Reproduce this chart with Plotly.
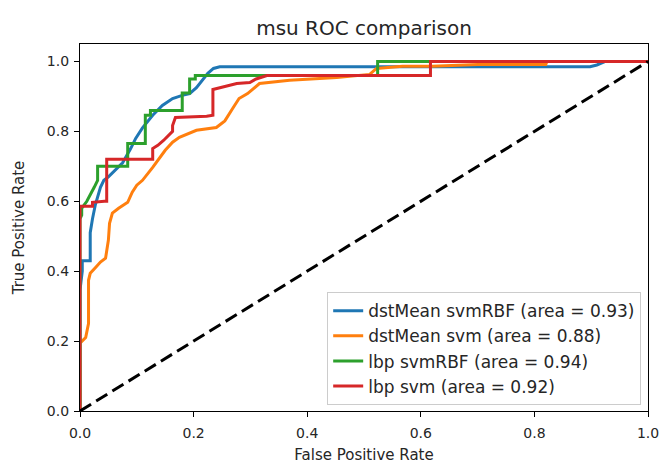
import plotly.graph_objects as go

# ---- data ----
labels = ["dstMean svmRBF (area = 0.93)", "dstMean svm (area = 0.88)",
          "lbp svmRBF (area = 0.94)", "lbp svm (area = 0.92)"]
colors = ["#1f77b4", "#ff7f0e", "#2ca02c", "#d62728"]

fpr_dst_rbf = [0, 0, 0.004, 0.004, 0.018, 0.018, 0.022, 0.027, 0.036, 0.042, 0.05, 0.062, 0.075,
               0.089, 0.098, 0.11, 0.128, 0.145, 0.163, 0.18, 0.193, 0.205, 0.216, 0.225, 0.235,
               0.246, 0.898, 0.91, 0.925, 1.0]
tpr_dst_rbf = [0, 0.346, 0.40, 0.43, 0.43, 0.51, 0.55, 0.59, 0.64, 0.66, 0.67, 0.69, 0.71,
               0.75, 0.78, 0.81, 0.846, 0.874, 0.894, 0.903, 0.908, 0.925, 0.946, 0.966, 0.98,
               0.985, 0.985, 0.99, 1.0, 1.0]

fpr_dst_svm = [0, 0, 0.01, 0.015, 0.015, 0.018, 0.027, 0.036, 0.045, 0.05, 0.052, 0.057, 0.068,
               0.084, 0.092, 0.1, 0.11, 0.128, 0.15, 0.163, 0.175, 0.186, 0.205, 0.24, 0.255,
               0.269, 0.28, 0.295, 0.307, 0.316, 0.369, 0.452, 0.51, 0.522, 0.568, 0.62, 0.7,
               0.82, 0.822, 1.0]
tpr_dst_svm = [0, 0.194, 0.21, 0.25, 0.374, 0.394, 0.41, 0.426, 0.437, 0.489, 0.537, 0.566, 0.58,
               0.597, 0.626, 0.646, 0.66, 0.697, 0.746, 0.769, 0.783, 0.79, 0.803, 0.811, 0.83,
               0.866, 0.894, 0.908, 0.926, 0.937, 0.946, 0.954, 0.963, 0.98, 0.986, 0.986, 0.991,
               0.991, 1.0, 1.0]

fpr_lbp_rbf = [0, 0, 0.003, 0.003, 0.012, 0.018, 0.025, 0.031, 0.031, 0.084, 0.084, 0.115, 0.115,
               0.124, 0.124, 0.18, 0.18, 0.193, 0.193, 0.203, 0.203, 0.524, 0.524, 1.0]
tpr_lbp_rbf = [0, 0.55, 0.56, 0.58, 0.60, 0.617, 0.64, 0.66, 0.70, 0.70, 0.765, 0.765, 0.846,
               0.846, 0.86, 0.86, 0.91, 0.91, 0.95, 0.95, 0.96, 0.96, 1.0, 1.0]

fpr_lbp_svm = [0, 0, 0.022, 0.022, 0.043, 0.047, 0.047, 0.128, 0.128, 0.137, 0.147, 0.156, 0.163,
               0.163, 0.168, 0.223, 0.234, 0.234, 0.258, 0.276, 0.299, 0.31, 0.329, 0.617, 0.617, 1.0]
tpr_lbp_svm = [0, 0.586, 0.586, 0.597, 0.60, 0.60, 0.72, 0.72, 0.751, 0.76, 0.774, 0.789, 0.80,
               0.817, 0.84, 0.843, 0.846, 0.92, 0.93, 0.937, 0.94, 0.95, 0.96, 0.96, 1.0, 1.0]

chance_x = [0, 1]
chance_y = [0, 1]

x_ticks = [0.0, 0.2, 0.4, 0.6, 0.8, 1.0]
y_ticks = [0.0, 0.2, 0.4, 0.6, 0.8, 1.0]

FONT = "DejaVu Sans"
fig = go.Figure()
series = [(fpr_dst_rbf, tpr_dst_rbf), (fpr_dst_svm, tpr_dst_svm),
          (fpr_lbp_rbf, tpr_lbp_rbf), (fpr_lbp_svm, tpr_lbp_svm)]
for (fx, ty), lab, col in zip(series, labels, colors):
    fig.add_trace(go.Scatter(x=fx, y=ty, mode="lines", name=lab,
                             line=dict(color=col, width=3)))
fig.add_trace(go.Scatter(x=chance_x, y=chance_y, mode="lines", showlegend=False,
                         line=dict(color="black", width=3, dash="13px,6px")))

axis_common = dict(showgrid=False, zeroline=False, showline=True, linecolor="black",
                   linewidth=1.3, mirror=True, ticks="outside", ticklen=5, tickwidth=1.3,
                   tickcolor="black", tickfont=dict(family=FONT, size=14, color="#262626"))
fig.update_xaxes(range=[0, 1], tickvals=x_ticks, ticktext=[f"{v:.1f}" for v in x_ticks],
                 ticklabelstandoff=4,
                 title=dict(text="False Positive Rate", font=dict(family=FONT, size=15, color="#262626"),
                            standoff=12), **axis_common)
fig.update_yaxes(range=[0, 1.05], tickvals=y_ticks, ticktext=[f"{v:.1f}" for v in y_ticks],
                 ticklabelstandoff=2,
                 title=dict(text="True Positive Rate", font=dict(family=FONT, size=15, color="#262626"),
                            standoff=18), **axis_common)

fig.update_layout(
    width=661, height=464,
    margin=dict(l=80, r=13, t=44, b=53, autoexpand=False),
    paper_bgcolor="white", plot_bgcolor="white",
    title=dict(text="msu ROC comparison", x=0.5, xref="paper", y=1 - 28 / 464, yanchor="middle",
               font=dict(family=FONT, size=20, color="#262626")),
    legend=dict(x=0.988, y=0.016, xanchor="right", yanchor="bottom",
                bgcolor="rgba(255,255,255,0.8)", bordercolor="#cccccc", borderwidth=1,
                font=dict(family=FONT, size=17, color="#262626")),
)

fig.write_html("out.html")
